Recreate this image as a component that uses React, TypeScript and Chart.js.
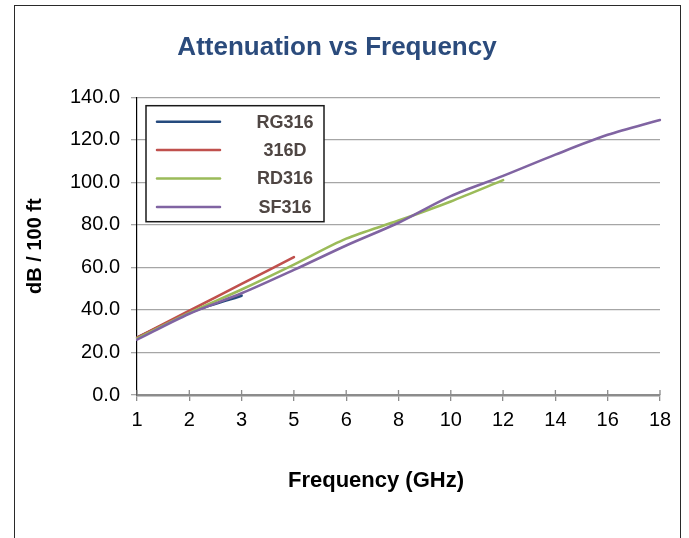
import React, { useEffect, useRef } from 'react';
import { Chart, registerables } from 'chart.js';

Chart.register(...registerables);

const CHART_TITLE = 'Attenuation vs Frequency';
const X_TITLE = 'Frequency (GHz)';
const Y_TITLE = 'dB / 100 ft';

const frequencies = ['1', '2', '3', '5', '6', '8', '10', '12', '14', '16', '18'];
const seriesNames = ['RG316', '316D', 'RD316', 'SF316'];
const seriesColors = ['#254a7e', '#c0504d', '#9bbb59', '#8064a2'];

const rg316 = [27, 38.6, 46.7, null, null, null, null, null, null, null, null];
const d316 = [27, 39.6, 52.2, 64.8, null, null, null, null, null, null, null];
const rd316 = [26.6, 38.6, 49.6, 61.3, 73.5, 82, 91, 101, null, null, null];
const sf316 = [26, 38.2, 47.8, 58.8, 70.3, 81, 93.5, 103, 113, 122.3, 129.3];
const seriesValues = [rg316, d316, rd316, sf316];

const yTicksMin = 0;
const yTicksMax = 140;
const yTicksStep = 20;

const FONT = '"Liberation Sans", Arial, sans-serif';

const boxLegend = {
  id: 'boxLegend',
  afterDatasetsDraw(chart: any) {
    const { ctx, chartArea } = chart;
    const left = chartArea.left + 9;
    const top = chartArea.top + 8.5;
    const w = 178;
    const h = 116;
    ctx.save();
    ctx.fillStyle = '#ffffff';
    ctx.fillRect(left, top, w, h);
    ctx.strokeStyle = '#1a1a1a';
    ctx.lineWidth = 1.5;
    ctx.strokeRect(left, top, w, h);
    chart.data.datasets.forEach((ds: any, i: number) => {
      const y = top + 16 + i * 28.4;
      ctx.strokeStyle = ds.borderColor;
      ctx.lineWidth = 2.5;
      ctx.lineCap = 'round';
      ctx.beginPath();
      ctx.moveTo(left + 11, y);
      ctx.lineTo(left + 74, y);
      ctx.stroke();
      ctx.fillStyle = '#4f4643';
      ctx.font = `bold 18px ${FONT}`;
      ctx.textAlign = 'center';
      ctx.textBaseline = 'middle';
      ctx.fillText(ds.label, left + 139, y + 1);
    });
    ctx.restore();
  },
};

const extras = {
  id: 'extras',
  afterDraw(chart: any) {
    const { ctx, chartArea } = chart;
    const xs = chart.scales.x;
    ctx.save();
    ctx.strokeStyle = '#8c8c8c';
    ctx.lineWidth = 1.3;
    ctx.beginPath();
    for (let i = 0; i < xs.ticks.length; i++) {
      const px = xs.getPixelForTick(i);
      ctx.moveTo(px, chartArea.bottom - 5);
      ctx.lineTo(px, chartArea.bottom);
    }
    ctx.stroke();
    ctx.fillStyle = '#000000';
    ctx.font = `bold 22px ${FONT}`;
    ctx.textAlign = 'center';
    ctx.textBaseline = 'middle';
    ctx.fillText(X_TITLE, 376, 481);
    ctx.restore();
  },
};

export default function App() {
  const canvasRef = useRef<HTMLCanvasElement | null>(null);

  useEffect(() => {
    if (!canvasRef.current) return;
    const chart = new Chart(canvasRef.current, {
      type: 'line',
      data: {
        labels: frequencies,
        datasets: seriesNames.map((name, i) => ({
          label: name,
          data: seriesValues[i],
          borderColor: seriesColors[i],
          backgroundColor: seriesColors[i],
          borderWidth: 2.6,
          pointRadius: 0,
          tension: 0.3,
          borderCapStyle: 'round' as const,
          fill: false,
          order: seriesNames.length - i,
        })),
      },
      options: {
        animation: false,
        responsive: false,
        maintainAspectRatio: false,
        layout: { padding: { left: 14, right: 29, top: 0, bottom: 0 } },
        plugins: {
          legend: { display: false },
          tooltip: { enabled: false },
          title: {
            display: true,
            text: CHART_TITLE,
            color: '#2b4b7c',
            font: { family: FONT, size: 26, weight: 'bold' },
            padding: { top: 32, bottom: 34 },
          },
        },
        scales: {
          x: {
            type: 'category',
            offset: false,
            grid: {
              drawOnChartArea: false,
              drawTicks: true,
              tickLength: 6,
              color: '#8c8c8c',
              lineWidth: 1.3,
            },
            border: { display: true, color: '#8c8c8c', width: 2.5 },
            ticks: {
              color: '#000000',
              font: { family: FONT, size: 20 },
              padding: 7,
              maxRotation: 0,
              autoSkip: false,
            },
            afterFit: (s: any) => {
              s.height = 143;
            },
          },
          y: {
            min: yTicksMin,
            max: yTicksMax,
            ticks: {
              stepSize: yTicksStep,
              color: '#000000',
              font: { family: FONT, size: 20 },
              padding: 11,
              callback: (v: any) => Number(v).toFixed(1),
            },
            grid: {
              color: '#a6a6a6',
              lineWidth: 1.3,
              tickLength: 6,
            },
            border: { display: true, color: '#000000', width: 1.2 },
            title: {
              display: true,
              text: Y_TITLE,
              color: '#000000',
              font: { family: FONT, size: 20, weight: 'bold' },
              padding: { top: 9, bottom: 0 },
            },
            afterFit: (s: any) => {
              s.width = 123;
            },
          },
        },
      },
      plugins: [boxLegend, extras],
    });
    return () => chart.destroy();
  }, []);

  return (
    <div
      style={{
        position: 'fixed',
        left: 0,
        top: 0,
        width: 689,
        height: 538,
        overflow: 'hidden',
        background: '#ffffff',
      }}
    >
      <div
        style={{
          position: 'absolute',
          left: 14,
          top: 5,
          width: 667,
          height: 600,
          border: '1.6px solid #2a2a2a',
          boxSizing: 'border-box',
        }}
      />
      <canvas
        ref={canvasRef}
        width={689}
        height={538}
        style={{ position: 'absolute', left: 0, top: 0, width: 689, height: 538 }}
      />
    </div>
  );
}
